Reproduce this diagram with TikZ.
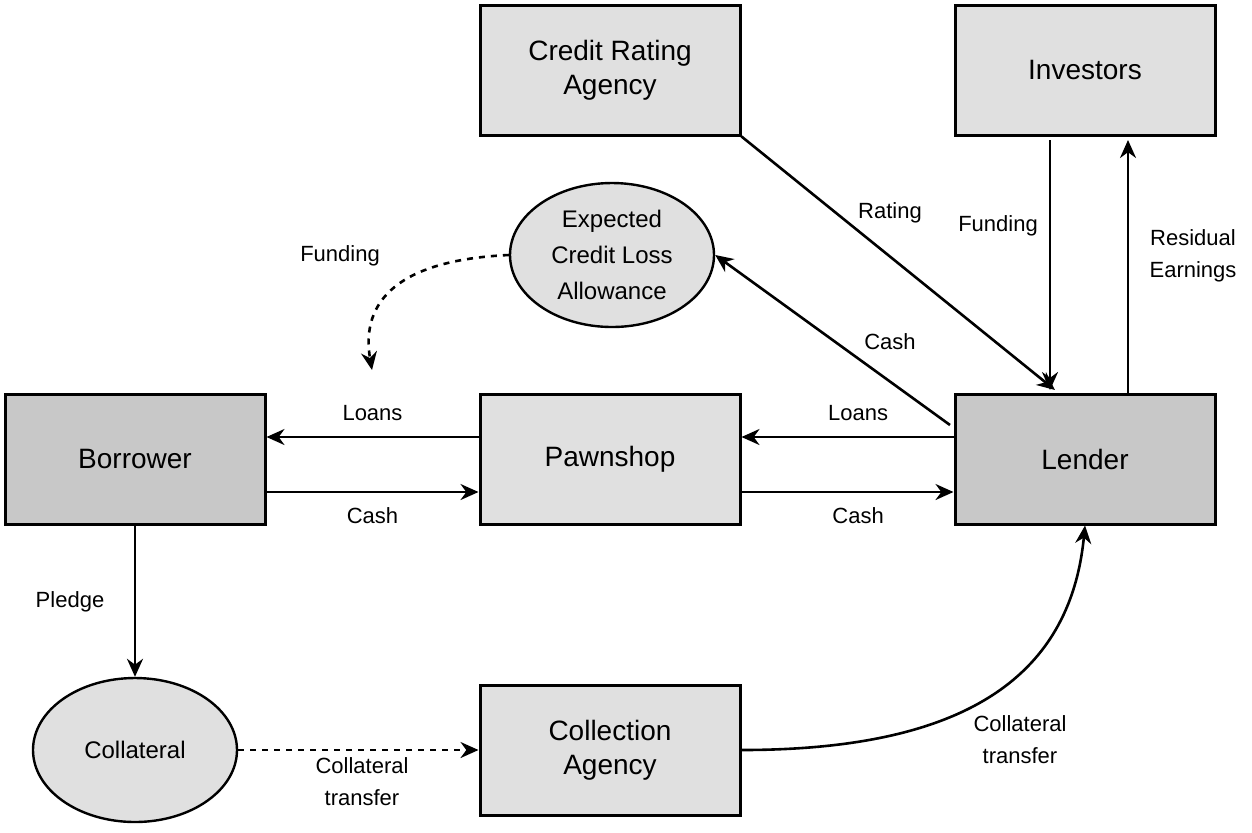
\documentclass[tikz,border=0pt]{standalone}
\usepackage{fontspec}
\setmainfont{Liberation Sans}
\usetikzlibrary{arrows.meta, shapes.geometric}
\definecolor{boxlight}{HTML}{E0E0E0}
\definecolor{boxdark}{HTML}{C8C8C8}
\begin{document}
\begin{tikzpicture}[x=0.5pt, y=-0.5pt,
    box/.style={draw, line width=1.5pt, fill=boxlight, minimum width=130pt, minimum height=65pt, align=center, font=\fontsize{14}{17}\selectfont},
    darkbox/.style={box, fill=boxdark},
    oval/.style={draw, line width=1.2pt, ellipse, fill=boxlight, minimum width=102pt, minimum height=72pt, align=center, inner sep=0pt, font=\fontsize{12}{18}\selectfont},
    flow/.style={line width=1.3pt, -{Stealth[length=9pt, width=8pt]}},
    lbl/.style={font=\fontsize{11}{16}\selectfont, align=center}]
    \useasboundingbox (0,0) rectangle (1252,832);
    % Boxes
    \node[box] (rating) at (610,70) {Credit Rating\\Agency};
    \node[box] (investors) at (1085,70) {Investors};
    \node[darkbox] (borrower) at (135,459) {Borrower};
    \node[box] (pawnshop) at (610,459) {Pawnshop};
    \node[darkbox] (lender) at (1085,459) {Lender};
    \node[box] (collection) at (610,750) {Collection\\Agency};
    % Ellipses
    \node[oval] (ecl) at (612,255) {Expected\\Credit Loss\\Allowance};
    \node[oval] (collateral) at (135,750) {Collateral};
    % Loans and cash
    \draw[flow] (pawnshop.west |- 0,437) -- (borrower.east |- 0,437) node[lbl, midway, above=4pt] {Loans};
    \draw[flow] (borrower.east |- 0,492) -- (pawnshop.west |- 0,492) node[lbl, midway, below=4pt] {Cash};
    \draw[flow] (lender.west |- 0,437) -- (pawnshop.east |- 0,437) node[lbl, pos=0.45, above=4pt] {Loans};
    \draw[flow] (pawnshop.east |- 0,492) -- (lender.west |- 0,492) node[lbl, pos=0.55, below=4pt] {Cash};
    % Upper flows
    \draw[flow] (rating.south east) -- (1055,390);
    \node[lbl] at (890,213) {Rating};
    \draw[flow] (1050,140) -- (1050,390);
    \node[lbl] at (998,226) {Funding};
    \draw[flow] (1128,393) -- (1128,140);
    \node[lbl] at (1193,256) {Residual\\Earnings};
    \draw[flow] (950,425) -- (ecl.east);
    \node[lbl] at (890,342) {Cash};
    \draw[flow, dashed] (ecl.west) .. controls (400,260) and (360,300) .. (372,370);
    \node[lbl] at (340,256) {Funding};
    % Collateral flows
    \draw[flow] (borrower.south) -- (collateral.north);
    \node[lbl] at (70,602) {Pledge};
    \draw[flow, dashed] (collateral.east) -- (collection.west);
    \node[lbl] at (362,782) {Collateral\\transfer};
    \draw[flow] (collection.east) .. controls (960,750) and (1070,680) .. (lender.south);
    \node[lbl] at (1020,740) {Collateral\\transfer};
\end{tikzpicture}
\end{document}
